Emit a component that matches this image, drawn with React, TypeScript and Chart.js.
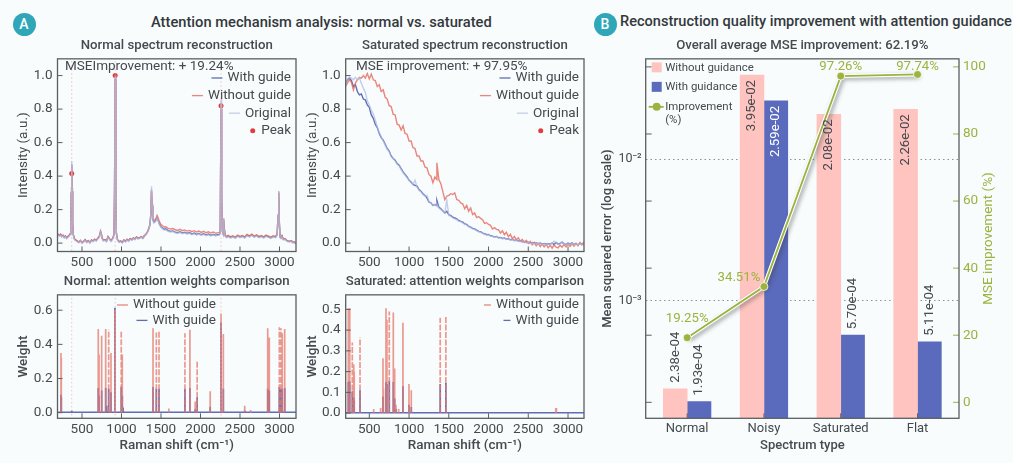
import { useEffect, useRef } from "react"
import { Chart, registerables } from "chart.js"

Chart.register(...registerables)

const FONT = "Roboto, 'DejaVu Sans', sans-serif"
const TEXT = "#444a4f"
const SPINE = "#5a5f62"
const BLUE = "rgba(84,98,176,0.92)"
const RED = "rgba(229,104,92,0.8)"
const STEM_RED = "rgba(230,120,108,0.75)"
const PALE = "rgba(178,190,226,0.75)"
const PEAK_LINE = "rgba(238,170,170,0.7)"
const OLIVE = "#9db23f"

const shiftTicks = [500, 1000, 1500, 2000, 2500, 3000]
const intensityTicks = [0, 0.2, 0.4, 0.6, 0.8, 1]
const normalWeightTicks = [0, 0.2, 0.4, 0.6]
const saturatedWeightTicks = [0, 0.1, 0.2, 0.3, 0.4, 0.5]
const improvementTicks = [0, 20, 40, 60, 80, 100]
const mseTicks = [1e-3, 1e-2]

// Normal spectrum
const normalShift = [
    190, 215, 230, 245, 260, 275, 290, 305, 320, 335,
    350, 358, 364, 370, 376, 382, 390, 405, 420, 440,
    460, 480, 500, 520, 540, 560, 580, 600, 620, 640,
    660, 680, 700, 720, 735, 745, 755, 770, 790, 810,
    830, 845, 855, 870, 890, 905, 912, 920, 928, 935,
    950, 970, 990, 1010, 1030, 1050, 1070, 1090, 1110, 1130,
    1150, 1170, 1190, 1210, 1230, 1250, 1270, 1290, 1310, 1330,
    1345, 1360, 1370, 1380, 1388, 1396, 1410, 1425, 1440, 1450,
    1465, 1480, 1500, 1520, 1540, 1560, 1590, 1620, 1650, 1680,
    1710, 1740, 1770, 1800, 1830, 1860, 1890, 1920, 1950, 1980,
    2010, 2040, 2070, 2100, 2130, 2160, 2190, 2220, 2240, 2250,
    2260, 2268, 2276, 2284, 2292, 2300, 2312, 2330, 2350, 2380,
    2410, 2440, 2470, 2500, 2530, 2560, 2590, 2620, 2650, 2680,
    2710, 2740, 2770, 2800, 2830, 2860, 2890, 2920, 2950, 2970,
    2982, 2990, 2998, 3008, 3020, 3032, 3050, 3070, 3090, 3110,
    3130, 3150, 3170, 3190, 3210,
]
const normalWithGuide = [
    0.055, 0.045, 0.052, 0.04, 0.046, 0.035, 0.042, 0.03, 0.038, 0.044,
    0.055, 0.11, 0.3, 0.47, 0.31, 0.12, 0.05, 0.025, 0.018, 0.012,
    0.005, 0.015, 0.002, 0.01, 0.02, 0.006, 0.014, 0.003, 0.018, 0.012,
    0.022, 0.015, 0.028, 0.04, 0.07, 0.055, 0.03, 0.016, 0.02, 0.012,
    0.038, 0.028, 0.02, 0.014, 0.03, 0.05, 0.3, 0.98, 0.25, 0.06,
    0.02, 0.008, 0.012, 0.004, 0.018, 0.01, 0.022, 0.014, 0.026, 0.02,
    0.03, 0.024, 0.036, 0.028, 0.032, 0.038, 0.03, 0.044, 0.052, 0.068,
    0.085, 0.11, 0.16, 0.31, 0.22, 0.14, 0.125, 0.13, 0.14, 0.155,
    0.135, 0.115, 0.098, 0.09, 0.082, 0.085, 0.075, 0.07, 0.073, 0.066,
    0.062, 0.068, 0.06, 0.065, 0.058, 0.063, 0.054, 0.06, 0.052, 0.058,
    0.05, 0.056, 0.048, 0.054, 0.046, 0.052, 0.047, 0.05, 0.052, 0.065,
    0.8, 0.28, 0.07, 0.06, 0.14, 0.09, 0.045, 0.036, 0.042, 0.034,
    0.04, 0.032, 0.044, 0.036, 0.042, 0.034, 0.048, 0.04, 0.05, 0.038,
    0.046, 0.036, 0.042, 0.034, 0.044, 0.038, 0.032, 0.04, 0.036, 0.05,
    0.16, 0.3, 0.12, 0.035, 0.03, 0.042, 0.022, 0.026, 0.016, 0.012,
    0.01, 0.014, 0.004, 0.006, -0.002,
]
const normalWithoutGuide = [
    0.056, 0.046, 0.053, 0.041, 0.047, 0.036, 0.043, 0.031, 0.039, 0.045,
    0.056, 0.11, 0.3, 0.46, 0.31, 0.12, 0.051, 0.026, 0.019, 0.013,
    0.006, 0.016, 0.003, 0.011, 0.021, 0.007, 0.015, 0.004, 0.019, 0.013,
    0.023, 0.016, 0.029, 0.041, 0.071, 0.056, 0.031, 0.017, 0.021, 0.013,
    0.039, 0.029, 0.021, 0.015, 0.031, 0.051, 0.3, 0.99, 0.25, 0.061,
    0.021, 0.009, 0.013, 0.005, 0.019, 0.011, 0.023, 0.015, 0.027, 0.021,
    0.031, 0.025, 0.037, 0.029, 0.033, 0.039, 0.031, 0.045, 0.053, 0.069,
    0.086, 0.112, 0.165, 0.32, 0.23, 0.15, 0.135, 0.14, 0.15, 0.165,
    0.148, 0.128, 0.11, 0.104, 0.096, 0.098, 0.088, 0.084, 0.087, 0.08,
    0.076, 0.082, 0.074, 0.079, 0.072, 0.076, 0.068, 0.074, 0.066, 0.072,
    0.064, 0.07, 0.062, 0.068, 0.06, 0.066, 0.06, 0.062, 0.064, 0.072,
    0.83, 0.29, 0.08, 0.066, 0.15, 0.098, 0.048, 0.04, 0.046, 0.038,
    0.044, 0.036, 0.048, 0.04, 0.046, 0.038, 0.052, 0.044, 0.054, 0.042,
    0.05, 0.04, 0.046, 0.038, 0.048, 0.042, 0.036, 0.044, 0.04, 0.054,
    0.17, 0.31, 0.13, 0.038, 0.032, 0.044, 0.024, 0.027, 0.017, 0.013,
    0.011, 0.015, 0.005, 0.007, -0.001,
]
const normalOriginal = [
    0.05, 0.04, 0.048, 0.036, 0.042, 0.03, 0.038, 0.026, 0.034, 0.04,
    0.05, 0.12, 0.33, 0.49, 0.33, 0.12, 0.045, 0.02, 0.014, 0.008,
    0.002, 0.012, 0.0, 0.006, 0.016, 0.002, 0.01, 0.0, 0.014, 0.008,
    0.018, 0.012, 0.024, 0.036, 0.066, 0.05, 0.026, 0.012, 0.016, 0.008,
    0.034, 0.024, 0.016, 0.01, 0.026, 0.05, 0.32, 1.0, 0.27, 0.06,
    0.016, 0.004, 0.008, 0.0, 0.014, 0.006, 0.018, 0.01, 0.022, 0.016,
    0.026, 0.02, 0.032, 0.024, 0.028, 0.034, 0.026, 0.04, 0.048, 0.064,
    0.082, 0.108, 0.17, 0.34, 0.23, 0.14, 0.12, 0.125, 0.135, 0.15,
    0.13, 0.11, 0.094, 0.086, 0.078, 0.08, 0.07, 0.066, 0.069, 0.062,
    0.058, 0.064, 0.056, 0.061, 0.054, 0.059, 0.05, 0.056, 0.048, 0.054,
    0.046, 0.052, 0.044, 0.05, 0.042, 0.048, 0.043, 0.046, 0.048, 0.07,
    0.86, 0.3, 0.07, 0.056, 0.15, 0.086, 0.042, 0.032, 0.038, 0.03,
    0.036, 0.028, 0.04, 0.032, 0.038, 0.03, 0.044, 0.036, 0.046, 0.034,
    0.042, 0.032, 0.038, 0.03, 0.04, 0.034, 0.028, 0.036, 0.032, 0.046,
    0.16, 0.31, 0.12, 0.03, 0.026, 0.038, 0.018, 0.022, 0.012, 0.008,
    0.006, 0.01, 0.0, 0.002, -0.006,
]
const normalPeakShift = [370, 920, 2260]
const normalPeakValue = [0.415, 1.0, 0.82]

// Saturated spectrum
const saturatedShift = [
    200, 225, 250, 275, 300, 325, 350, 375, 400, 425,
    450, 475, 500, 525, 550, 575, 600, 625, 650, 675,
    700, 725, 750, 775, 800, 825, 850, 875, 900, 925,
    950, 975, 1000, 1025, 1050, 1075, 1100, 1125, 1150, 1175,
    1200, 1225, 1250, 1275, 1300, 1325, 1350, 1350, 1375, 1400,
    1450, 1475, 1500, 1525, 1550, 1575, 1600, 1625, 1650, 1675,
    1700, 1725, 1750, 1775, 1800, 1825, 1850, 1875, 1900, 1925,
    1950, 1975, 2000, 2025, 2050, 2075, 2100, 2125, 2150, 2175,
    2200, 2225, 2250, 2275, 2300, 2325, 2350, 2375, 2400, 2425,
    2450, 2475, 2500, 2525, 2550, 2575, 2600, 2625, 2650, 2675,
    2700, 2725, 2750, 2775, 2800, 2825, 2850, 2875, 2900, 2925,
    2950, 2975, 3000, 3025, 3050, 3075, 3100, 3125, 3150, 3175,
    3200,
]
const saturatedWithGuide = [
    0.955, 0.975, 0.985, 0.97, 0.935, 0.945, 0.905, 0.885, 0.89, 0.86,
    0.855, 0.825, 0.81, 0.765, 0.745, 0.71, 0.69, 0.655, 0.63, 0.615,
    0.59, 0.565, 0.55, 0.52, 0.505, 0.495, 0.475, 0.465, 0.445, 0.425,
    0.41, 0.395, 0.375, 0.365, 0.35, 0.345, 0.34, 0.32, 0.31, 0.295,
    0.285, 0.27, 0.245, 0.24, 0.225, 0.23, 0.225, 0.255, 0.215, 0.205,
    0.18, 0.19, 0.17, 0.165, 0.155, 0.15, 0.145, 0.135, 0.13, 0.125,
    0.115, 0.112, 0.1, 0.095, 0.088, 0.085, 0.078, 0.07, 0.068, 0.06,
    0.056, 0.05, 0.052, 0.044, 0.042, 0.036, 0.04, 0.032, 0.034, 0.028,
    0.03, 0.024, 0.026, 0.02, 0.022, 0.016, 0.018, 0.012, 0.014, 0.008,
    0.01, 0.004, 0.006, 0.0, 0.004, -0.002, 0.002, -0.004, 0.0, -0.006,
    -0.002, -0.008, -0.004, -0.006, 0.0, -0.008, 0.004, -0.006, -0.002, 0.006,
    -0.004, -0.008, 0.0, -0.006, 0.002, -0.008, -0.004, -0.01, -0.002, -0.006,
    -0.008,
]
const saturatedWithoutGuide = [
    0.935, 0.955, 0.975, 0.96, 0.915, 0.955, 0.975, 0.99, 0.985, 1.0,
    0.985, 1.012, 0.98, 1.008, 0.975, 0.97, 0.935, 0.945, 0.905, 0.915,
    0.87, 0.86, 0.82, 0.815, 0.77, 0.765, 0.71, 0.705, 0.675, 0.7,
    0.655, 0.65, 0.61, 0.61, 0.57, 0.565, 0.52, 0.52, 0.49, 0.49,
    0.455, 0.45, 0.41, 0.4, 0.36, 0.395, 0.38, 0.48, 0.38, 0.355,
    0.26, 0.28, 0.285, 0.295, 0.29, 0.3, 0.26, 0.255, 0.24, 0.235,
    0.205, 0.225, 0.19, 0.21, 0.17, 0.18, 0.152, 0.158, 0.148, 0.14,
    0.118, 0.122, 0.112, 0.106, 0.084, 0.092, 0.082, 0.08, 0.06, 0.074,
    0.05, 0.064, 0.038, 0.052, 0.026, 0.04, 0.02, 0.032, 0.012, 0.022,
    0.004, 0.016, -0.002, 0.01, -0.01, 0.004, -0.016, -0.002, -0.02, -0.006,
    -0.022, -0.008, -0.028, -0.012, -0.03, -0.01, -0.024, -0.028, -0.012, -0.024,
    -0.008, -0.022, -0.006, -0.02, -0.004, -0.018, -0.002, -0.016, 0.004, -0.01,
    0.008,
]
const saturatedOriginal = [
    0.95, 0.98, 0.99, 0.985, 0.975, 0.99, 0.975, 0.985, 0.955, 0.925,
    0.9, 0.85, 0.825, 0.795, 0.77, 0.735, 0.695, 0.66, 0.635, 0.61,
    0.585, 0.56, 0.545, 0.515, 0.505, 0.49, 0.47, 0.46, 0.44, 0.42,
    0.405, 0.39, 0.375, 0.36, 0.35, 0.375, 0.335, 0.315, 0.305, 0.29,
    0.28, 0.285, 0.25, 0.24, 0.225, 0.23, 0.22, 0.235, 0.21, 0.2,
    0.18, 0.255, 0.165, 0.16, 0.15, 0.145, 0.14, 0.13, 0.128, 0.12,
    0.112, 0.108, 0.098, 0.092, 0.085, 0.082, 0.075, 0.068, 0.065, 0.058,
    0.054, 0.048, 0.05, 0.042, 0.04, 0.034, 0.038, 0.03, 0.032, 0.026,
    0.028, 0.022, 0.024, 0.018, 0.02, 0.014, 0.016, 0.01, 0.012, 0.006,
    0.008, 0.002, 0.004, -0.002, 0.002, -0.004, 0.0, -0.006, -0.002, -0.008,
    -0.004, -0.01, -0.006, -0.008, -0.002, 0.012, 0.002, -0.008, -0.004, 0.008,
    -0.006, -0.01, -0.002, -0.008, 0.0, -0.01, -0.006, -0.012, -0.004, -0.008,
    -0.01,
]

// Attention weights, as stems: solid and dashed red ones, then the blue ones
const normalSolidShift = [234, 238, 706, 716, 749, 800, 867, 917, 1010, 1399, 1600, 1866, 1933, 2123, 2260, 2289, 2560, 2635, 2851, 2871, 3035, 3066]
const normalSolidWeight = [0.35, 0.32, 0.49, 0.34, 0.45, 0.49, 0.35, 0.6, 0.34, 0.495, 0.025, 0.485, 0.065, 0.125, 0.58, 0.46, 0.04, 0.015, 0.495, 0.44, 0.465, 0.49]
const normalDashedShift = [838, 997, 1441, 1475, 1803, 1958, 2998, 3019]
const normalDashedWeight = [0.485, 0.48, 0.47, 0.475, 0.465, 0.3, 0.5, 0.495]
const normalBlueShift = [234, 238, 370, 706, 716, 749, 800, 812, 838, 867, 917, 997, 1010, 1020, 1399, 1441, 1475, 1803, 1866, 1933, 1958, 2123, 2260, 2289, 2560, 2851, 2871, 2998, 3019, 3035, 3066]
const normalBlueWeight = [0.105, 0.09, 0.012, 0.145, 0.1, 0.13, 0.145, 0.04, 0.14, 0.12, 0.615, 0.15, 0.1, 0.03, 0.15, 0.14, 0.14, 0.14, 0.145, 0.02, 0.09, 0.035, 0.53, 0.14, 0.012, 0.14, 0.13, 0.15, 0.14, 0.14, 0.145]

const saturatedSolidShift = [236, 242, 248, 254, 304, 310, 555, 643, 672, 678, 710, 722, 802, 819, 835, 869, 923, 999, 1028, 2846, 2854]
const saturatedSolidWeight = [0.505, 0.5, 0.505, 0.505, 0.235, 0.2, 0.02, 0.025, 0.265, 0.12, 0.505, 0.45, 0.485, 0.215, 0.04, 0.02, 0.435, 0.14, 0.11, 0.025, 0.025]
const saturatedDashedShift = [286, 383, 751, 1392, 1463]
const saturatedDashedWeight = [0.34, 0.365, 0.49, 0.46, 0.47]
const saturatedBlueShift = [236, 242, 248, 254, 286, 304, 310, 383, 672, 710, 722, 751, 802, 819, 835, 923, 999, 1028, 1392, 1463]
const saturatedBlueWeight = [0.15, 0.15, 0.155, 0.15, 0.105, 0.075, 0.06, 0.11, 0.08, 0.15, 0.14, 0.155, 0.15, 0.07, 0.02, 0.13, 0.04, 0.03, 0.14, 0.145]

// Panel B
const spectrumTypes = ["Normal", "Noisy", "Saturated", "Flat"]
const withoutGuidance = [2.38e-4, 3.95e-2, 2.08e-2, 2.26e-2]
const withGuidance = [1.93e-4, 2.59e-2, 5.7e-4, 5.11e-4]
const improvement = [19.25, 34.51, 97.26, 97.74]
const withoutGuidanceLabels = ["2.38e-04", "3.95e-02", "2.08e-02", "2.26e-02"]
const withGuidanceLabels = ["1.93e-04", "2.59e-02", "5.70e-04", "5.11e-04"]
const improvementLabels = ["19.25%", "34.51%", "97.26%", "97.74%"]

const points = (xs: number[], ys: number[]) => xs.map((x, i) => ({ x, y: ys[i] }))

const stems = (xs: number[], ys: number[]) =>
    xs.flatMap((x, i) => [
        { x, y: 0 },
        { x, y: ys[i] },
        { x, y: null },
    ])

const markerLines = (xs: number[]) =>
    xs.flatMap((x) => [
        { x, y: -1 },
        { x, y: 2 },
        { x, y: null },
    ])

const lineSet = (label: string, data: any[], color: string, width = 1.4, dash: number[] = []) => ({
    type: "line",
    label,
    data,
    borderColor: color,
    borderWidth: width,
    borderDash: dash,
    pointRadius: 0,
    tension: 0,
    spanGaps: false,
    fill: false,
})

const tickStyle = {
    color: TEXT,
    font: { family: FONT, size: 13.5 },
    maxRotation: 0,
    autoSkip: false,
}

const shiftAxis = (min: number, max: number, height: number, title?: string) => ({
    type: "linear",
    min,
    max,
    afterBuildTicks: (scale: any) => {
        scale.ticks = shiftTicks.map((value) => ({ value }))
    },
    afterFit: (scale: any) => {
        scale.height = height
    },
    grid: { display: false, drawTicks: false },
    border: { display: false },
    ticks: { ...tickStyle, padding: 3, callback: (value: any) => String(value) },
    title: {
        display: !!title,
        text: title,
        color: TEXT,
        font: { family: FONT, size: 13.5, weight: "500" },
        padding: { top: 0, bottom: 4 },
    },
})

const valueAxis = (min: number, max: number, ticks: number[], width: number, title: string) => ({
    type: "linear",
    min,
    max,
    afterBuildTicks: (scale: any) => {
        scale.ticks = ticks.map((value) => ({ value }))
    },
    afterFit: (scale: any) => {
        scale.width = width
    },
    grid: { display: false, drawTicks: false },
    border: { display: false },
    ticks: { ...tickStyle, padding: 5, callback: (value: any) => Number(value).toFixed(1) },
    title: {
        display: true,
        text: title,
        color: TEXT,
        font: { family: FONT, size: 13.5, weight: title === "Weight" ? "500" : "400" },
        padding: { top: 2, bottom: 0 },
    },
})

const panelTitle = (text: string) => ({
    display: true,
    text,
    fullSize: false,
    color: TEXT,
    font: { family: FONT, size: 13.2, weight: "500" },
    padding: { top: 2, bottom: 5 },
})

// ticks in Chart.js point outwards, the ones here point into the plot
const innerTick = (ctx: any, x0: number, y0: number, x1: number, y1: number, color: string) => {
    ctx.strokeStyle = color
    ctx.lineWidth = 1
    ctx.beginPath()
    ctx.moveTo(x0, y0)
    ctx.lineTo(x1, y1)
    ctx.stroke()
}

const framePlugin = {
    id: "frame",
    afterDatasetsDraw(chart: any) {
        const { ctx, chartArea: area, scales } = chart
        ctx.save()
        scales.x.ticks.forEach((tick: any) => {
            const x = scales.x.getPixelForValue(tick.value)
            innerTick(ctx, x, area.bottom, x, area.bottom - 5, SPINE)
        })
        if (scales.right) {
            scales.right.ticks.forEach((tick: any) => {
                const y = scales.right.getPixelForValue(tick.value)
                innerTick(ctx, area.left, y, area.left + 6, y, SPINE)
                innerTick(ctx, area.right, y, area.right - 6, y, OLIVE)
            })
        } else {
            scales.y.ticks.forEach((tick: any) => {
                const y = scales.y.getPixelForValue(tick.value)
                innerTick(ctx, area.left, y, area.left + 5, y, SPINE)
            })
        }
        ctx.strokeStyle = SPINE
        ctx.lineWidth = 1.3
        ctx.strokeRect(area.left, area.top, area.right - area.left, area.bottom - area.top)
        ctx.restore()
    },
}

type LegendRow = { label: string; color: string; kind: "line" | "dash" | "dot" }

const legendPlugin = (rows: LegendRow[], right: number, top: number, step: number) => ({
    id: "panelLegend",
    afterDraw(chart: any) {
        const { ctx } = chart
        ctx.save()
        ctx.font = `13.5px ${FONT}`
        ctx.textAlign = "right"
        ctx.textBaseline = "middle"
        rows.forEach((row, i) => {
            const y = top + i * step
            ctx.fillStyle = TEXT
            ctx.fillText(row.label, right, y)
            const textLeft = right - ctx.measureText(row.label).width
            if (row.kind === "dot") {
                ctx.fillStyle = row.color
                ctx.beginPath()
                ctx.arc(textLeft - 8.5, y, 2.5, 0, Math.PI * 2)
                ctx.fill()
            } else {
                ctx.strokeStyle = row.color
                ctx.lineWidth = 1.3
                ctx.beginPath()
                ctx.moveTo(textLeft - (row.kind === "dash" ? 12 : 16), y)
                ctx.lineTo(textLeft - 5, y)
                ctx.stroke()
            }
        })
        ctx.restore()
    },
})

const notePlugin = (text: string, x: number, y: number) => ({
    id: "panelNote",
    afterDraw(chart: any) {
        const { ctx } = chart
        ctx.save()
        ctx.font = `13.5px ${FONT}`
        ctx.fillStyle = TEXT
        ctx.textAlign = "left"
        ctx.textBaseline = "middle"
        ctx.fillText(text, x, y)
        ctx.restore()
    },
})

const reconstructionRows: LegendRow[] = [
    { label: "With guide", color: BLUE, kind: "line" },
    { label: "Without guide", color: RED, kind: "line" },
    { label: "Original", color: PALE, kind: "line" },
    { label: "Peak", color: "#e23d3d", kind: "dot" },
]

const weightRows = (dash: LegendRow["kind"]): LegendRow[] => [
    { label: "Without guide", color: RED, kind: dash },
    { label: "With guide", color: BLUE, kind: dash },
]

const normalSpectrumConfig = () => ({
    type: "line",
    data: {
        datasets: [
            lineSet("Peak lines", markerLines(normalPeakShift), PEAK_LINE, 1, [1.5, 2.5]),
            lineSet("Original", points(normalShift, normalOriginal), PALE),
            lineSet("Without guide", points(normalShift, normalWithoutGuide), RED),
            lineSet("With guide", points(normalShift, normalWithGuide), BLUE),
            {
                type: "line",
                label: "Peak",
                data: points(normalPeakShift, normalPeakValue),
                showLine: false,
                pointRadius: 2.5,
                pointBackgroundColor: "#e23d3d",
                pointBorderWidth: 0,
            },
        ],
    },
    options: {
        responsive: false,
        animation: false,
        layout: { padding: { right: 4 } },
        plugins: { legend: { display: false }, tooltip: { enabled: false }, title: panelTitle("Normal spectrum reconstruction") },
        scales: {
            x: shiftAxis(190, 3209, 20.5),
            y: valueAxis(-0.05, 1.1, intensityTicks, 43.5, "Intensity (a.u.)"),
        },
    },
    plugins: [framePlugin, legendPlugin(reconstructionRows, 277, 42, 17.6), notePlugin("MSEImprovement: + 19.24%", 51, 30.5)],
})

const saturatedSpectrumConfig = () => ({
    type: "line",
    data: {
        datasets: [
            lineSet("Original", points(saturatedShift, saturatedOriginal), PALE),
            lineSet("Without guide", points(saturatedShift, saturatedWithoutGuide), RED),
            lineSet("With guide", points(saturatedShift, saturatedWithGuide), BLUE),
        ],
    },
    options: {
        responsive: false,
        animation: false,
        layout: { padding: { right: 4 } },
        plugins: { legend: { display: false }, tooltip: { enabled: false }, title: panelTitle("Saturated spectrum reconstruction") },
        scales: {
            x: shiftAxis(203, 3201, 20.5),
            y: valueAxis(-0.05, 1.1, intensityTicks, 42.7, "Intensity (a.u.)"),
        },
    },
    plugins: [framePlugin, legendPlugin(reconstructionRows, 276, 42, 17.6), notePlugin("MSE improvement: + 97.95%", 53, 30.5)],
})

const normalWeightsConfig = () => ({
    type: "line",
    data: {
        datasets: [
            lineSet("Peak lines", markerLines(normalPeakShift), PEAK_LINE, 1, [1.5, 2.5]),
            lineSet("Without guide", stems(normalSolidShift, normalSolidWeight), STEM_RED, 1.7),
            lineSet("Without guide", stems(normalDashedShift, normalDashedWeight), STEM_RED, 1.7, [6, 1.5]),
            lineSet("With guide", stems(normalBlueShift, normalBlueWeight), BLUE, 1.7),
            lineSet("With guide", points([190, 3209], [0.002, 0.002]), BLUE, 1.5),
        ],
    },
    options: {
        responsive: false,
        animation: false,
        layout: { padding: { right: 4 } },
        plugins: { legend: { display: false }, tooltip: { enabled: false }, title: panelTitle("Normal: attention weights comparison") },
        scales: {
            x: shiftAxis(190, 3209, 39.7, "Raman shift (cm⁻¹)"),
            y: valueAxis(-0.033, 0.69, normalWeightTicks, 43.5, "Weight"),
        },
    },
    plugins: [framePlugin, legendPlugin(weightRows("line"), 202, 33, 15.4)],
})

const saturatedWeightsConfig = () => ({
    type: "line",
    data: {
        datasets: [
            lineSet("Without guide", stems(saturatedSolidShift, saturatedSolidWeight), STEM_RED, 1.7),
            lineSet("Without guide", stems(saturatedDashedShift, saturatedDashedWeight), STEM_RED, 1.7, [6, 1.5]),
            lineSet("With guide", stems(saturatedBlueShift, saturatedBlueWeight), BLUE, 1.7),
            lineSet("With guide", points([203, 3201], [0.002, 0.002]), BLUE, 1.5),
        ],
    },
    options: {
        responsive: false,
        animation: false,
        layout: { padding: { right: 4 } },
        plugins: { legend: { display: false }, tooltip: { enabled: false }, title: panelTitle("Saturated: attention weights comparison") },
        scales: {
            x: shiftAxis(203, 3201, 39.7, "Raman shift (cm⁻¹)"),
            y: valueAxis(-0.025, 0.57, saturatedWeightTicks, 42.7, "Weight"),
        },
    },
    plugins: [framePlugin, legendPlugin(weightRows("dash"), 276, 33, 15.4)],
})

// the line in panel B sits on a white casing with a soft shadow
const casingShadowPlugin = {
    id: "casingShadow",
    beforeDatasetDraw(chart: any, args: any) {
        if (chart.data.datasets[args.index].label !== "Casing") return
        chart.ctx.save()
        chart.ctx.shadowColor = "rgba(60,60,60,0.45)"
        chart.ctx.shadowBlur = 4
        chart.ctx.shadowOffsetX = 2
        chart.ctx.shadowOffsetY = 2
    },
    afterDatasetDraw(chart: any, args: any) {
        if (chart.data.datasets[args.index].label !== "Casing") return
        chart.ctx.restore()
    },
}

const improvementOverlayPlugin = {
    id: "improvementOverlay",
    afterDatasetsDraw(chart: any) {
        const { ctx, chartArea: area, scales } = chart
        const labelShift = [[0, -19], [-25, -9], [0, -9], [0, -8]]
        ctx.save()
        ctx.font = `13.2px ${FONT}`
        ctx.textBaseline = "middle"
        ctx.textAlign = "center"

        // values along the improvement line
        ctx.fillStyle = OLIVE
        improvement.forEach((value, i) => {
            const x = scales.x.getPixelForValue(i)
            const y = scales.right.getPixelForValue(value)
            ctx.fillText(improvementLabels[i], x + labelShift[i][0], y + labelShift[i][1])
        })

        // rotated values on the bars
        const barLabel = (x: number, y: number, text: string, inside: boolean, color: string) => {
            ctx.save()
            ctx.translate(x, y)
            ctx.rotate(-Math.PI / 2)
            ctx.fillStyle = color
            ctx.textAlign = inside ? "right" : "left"
            ctx.fillText(text, 0, 0)
            ctx.restore()
        }
        const barWidth = 23.8
        withoutGuidance.forEach((value, i) => {
            const x = scales.x.getPixelForValue(i) - barWidth / 2
            const y = scales.y.getPixelForValue(value)
            const inside = value > 1e-2
            barLabel(x, inside ? y + 5 : y - 6, withoutGuidanceLabels[i], inside, TEXT)
        })
        withGuidance.forEach((value, i) => {
            const x = scales.x.getPixelForValue(i) + barWidth / 2
            const y = scales.y.getPixelForValue(value)
            const inside = value > 1e-2
            barLabel(x, inside ? y + 5 : y - 6, withGuidanceLabels[i], inside, inside ? "#ffffff" : TEXT)
        })

        // legend
        ctx.font = `11.4px ${FONT}`
        ctx.textAlign = "left"
        ctx.fillStyle = "#ffc4bf"
        ctx.fillRect(area.left + 6, area.top + 3.5, 10, 10)
        ctx.fillStyle = "#5a6bbd"
        ctx.fillRect(area.left + 6, area.top + 23, 10, 10)
        ctx.fillStyle = TEXT
        ctx.fillText("Without guidance", area.left + 19.5, area.top + 9)
        ctx.fillText("With guidance", area.left + 19.5, area.top + 28.5)
        ctx.fillText("Improvement", area.left + 19.5, area.top + 48)
        ctx.fillText("(%)", area.left + 19.5, area.top + 61.5)
        ctx.strokeStyle = OLIVE
        ctx.lineWidth = 1.8
        ctx.beginPath()
        ctx.moveTo(area.left + 3, area.top + 48)
        ctx.lineTo(area.left + 18, area.top + 48)
        ctx.stroke()
        ctx.fillStyle = OLIVE
        ctx.beginPath()
        ctx.arc(area.left + 11, area.top + 48, 4, 0, Math.PI * 2)
        ctx.fill()

        // right hand title reads bottom to top
        ctx.save()
        ctx.translate(chart.width - 9, (area.top + area.bottom) / 2)
        ctx.rotate(-Math.PI / 2)
        ctx.font = `13.5px ${FONT}`
        ctx.fillStyle = OLIVE
        ctx.textAlign = "center"
        ctx.fillText("MSE improvement (%)", 0, 0)
        ctx.restore()
        ctx.restore()
    },
}

const improvementData = () => improvement.map((y, x) => ({ x, y }))

const overviewConfig = () => ({
    type: "bar",
    data: {
        datasets: [
            {
                type: "line",
                label: "Improvement (%)",
                data: improvementData(),
                yAxisID: "right",
                borderColor: OLIVE,
                borderWidth: 1.8,
                pointRadius: 4,
                pointBackgroundColor: OLIVE,
                pointBorderColor: "#ffffff",
                pointBorderWidth: 0.8,
                tension: 0,
                order: 0,
                clip: false,
            },
            {
                type: "line",
                label: "Casing",
                data: improvementData(),
                yAxisID: "right",
                borderColor: "#ffffff",
                borderWidth: 4,
                pointRadius: 0,
                tension: 0,
                order: 1,
                clip: false,
            },
            {
                type: "bar",
                label: "Without guidance",
                data: withoutGuidance.map((y, x) => ({ x, y })),
                backgroundColor: "#ffc4bf",
                barThickness: 23.8,
                yAxisID: "y",
                order: 2,
            },
            {
                type: "bar",
                label: "With guidance",
                data: withGuidance.map((y, x) => ({ x, y })),
                backgroundColor: "#5a6bbd",
                barThickness: 23.8,
                yAxisID: "y",
                order: 2,
            },
        ],
    },
    options: {
        responsive: false,
        animation: false,
        plugins: { legend: { display: false }, tooltip: { enabled: false }, title: panelTitle("Overall average MSE improvement: 62.19%") },
        scales: {
            x: {
                type: "linear",
                offset: false,
                min: -0.54,
                max: 3.54,
                afterBuildTicks: (scale: any) => {
                    scale.ticks = spectrumTypes.map((_, value) => ({ value }))
                },
                afterFit: (scale: any) => {
                    scale.height = 39.7
                },
                grid: { display: false, drawTicks: false },
                border: { display: false },
                ticks: { ...tickStyle, padding: 3, font: { family: FONT, size: 13 }, callback: (value: any) => spectrumTypes[value] },
                title: {
                    display: true,
                    text: "Spectrum type",
                    color: TEXT,
                    font: { family: FONT, size: 13, weight: "500" },
                    padding: { top: 0, bottom: 4 },
                },
            },
            y: {
                type: "logarithmic",
                min: 1.47e-4,
                max: 0.0514,
                afterBuildTicks: (scale: any) => {
                    scale.ticks = mseTicks.map((value) => ({ value }))
                },
                afterFit: (scale: any) => {
                    scale.width = 45.7
                },
                grid: { drawTicks: false, color: "#8d9296", lineWidth: 1 },
                border: { display: false, dash: [1.5, 3] },
                ticks: {
                    ...tickStyle,
                    padding: 4,
                    font: { family: FONT, size: 12.5 },
                    callback: (value: any) => (value === 1e-2 ? "10⁻²" : "10⁻³"),
                },
                title: {
                    display: true,
                    text: "Mean squared error (log scale)",
                    color: TEXT,
                    font: { family: FONT, size: 13, weight: "500" },
                    padding: { top: 0, bottom: 0 },
                },
            },
            right: {
                type: "linear",
                position: "right",
                min: -4.77,
                max: 102.4,
                afterBuildTicks: (scale: any) => {
                    scale.ticks = improvementTicks.map((value) => ({ value }))
                },
                afterFit: (scale: any) => {
                    scale.width = 39
                },
                grid: { display: false, drawTicks: false },
                border: { display: false },
                ticks: { ...tickStyle, color: OLIVE, padding: 4, font: { family: FONT, size: 13.5 } },
            },
        },
    },
    plugins: [casingShadowPlugin, framePlugin, improvementOverlayPlugin],
})

function ChartCanvas({ left, top, width, height, config }: any) {
    const chartRef = useRef<HTMLCanvasElement>(null)

    useEffect(() => {
        if (!chartRef.current) return
        const chart = new Chart(chartRef.current, config())
        return () => chart.destroy()
    }, [])

    return <canvas ref={chartRef} width={width} height={height} style={{ position: "absolute", left, top, width, height }} />
}

function Badge({ left, text }: { left: number; text: string }) {
    return (
        <div
            style={{
                position: "absolute",
                left,
                top: 13,
                width: 23,
                height: 23,
                borderRadius: "50%",
                background: "#2fa7b9",
                color: "#ffffff",
                font: `500 14px ${FONT}`,
                lineHeight: "23px",
                textAlign: "center",
            }}
        >
            {text}
        </div>
    )
}

function Heading({ left, text, size }: { left: number; text: string; size: number }) {
    return (
        <div
            style={{
                position: "absolute",
                left,
                top: 12,
                whiteSpace: "nowrap",
                color: "#33383c",
                font: `500 ${size}px ${FONT}`,
                lineHeight: "20px",
            }}
        >
            {text}
        </div>
    )
}

export default function App() {
    return (
        <div
            style={{
                position: "absolute",
                left: 0,
                top: 0,
                width: 1013,
                height: 463,
                overflow: "hidden",
                background: "#f8fcfc",
            }}
        >
            <Badge left={12.5} text="A" />
            <Badge left={593.5} text="B" />
            <Heading left={151} text="Attention mechanism analysis: normal vs. saturated" size={14.7} />
            <Heading left={620} text="Reconstruction quality improvement with attention guidance" size={14.55} />
            <ChartCanvas left={14} top={36} width={286} height={236} config={normalSpectrumConfig} />
            <ChartCanvas left={303} top={36} width={285} height={236} config={saturatedSpectrumConfig} />
            <ChartCanvas left={14} top={272} width={286} height={186} config={normalWeightsConfig} />
            <ChartCanvas left={303} top={272} width={285} height={186} config={saturatedWeightsConfig} />
            <ChartCanvas left={600} top={36} width={398} height={422} config={overviewConfig} />
        </div>
    )
}
